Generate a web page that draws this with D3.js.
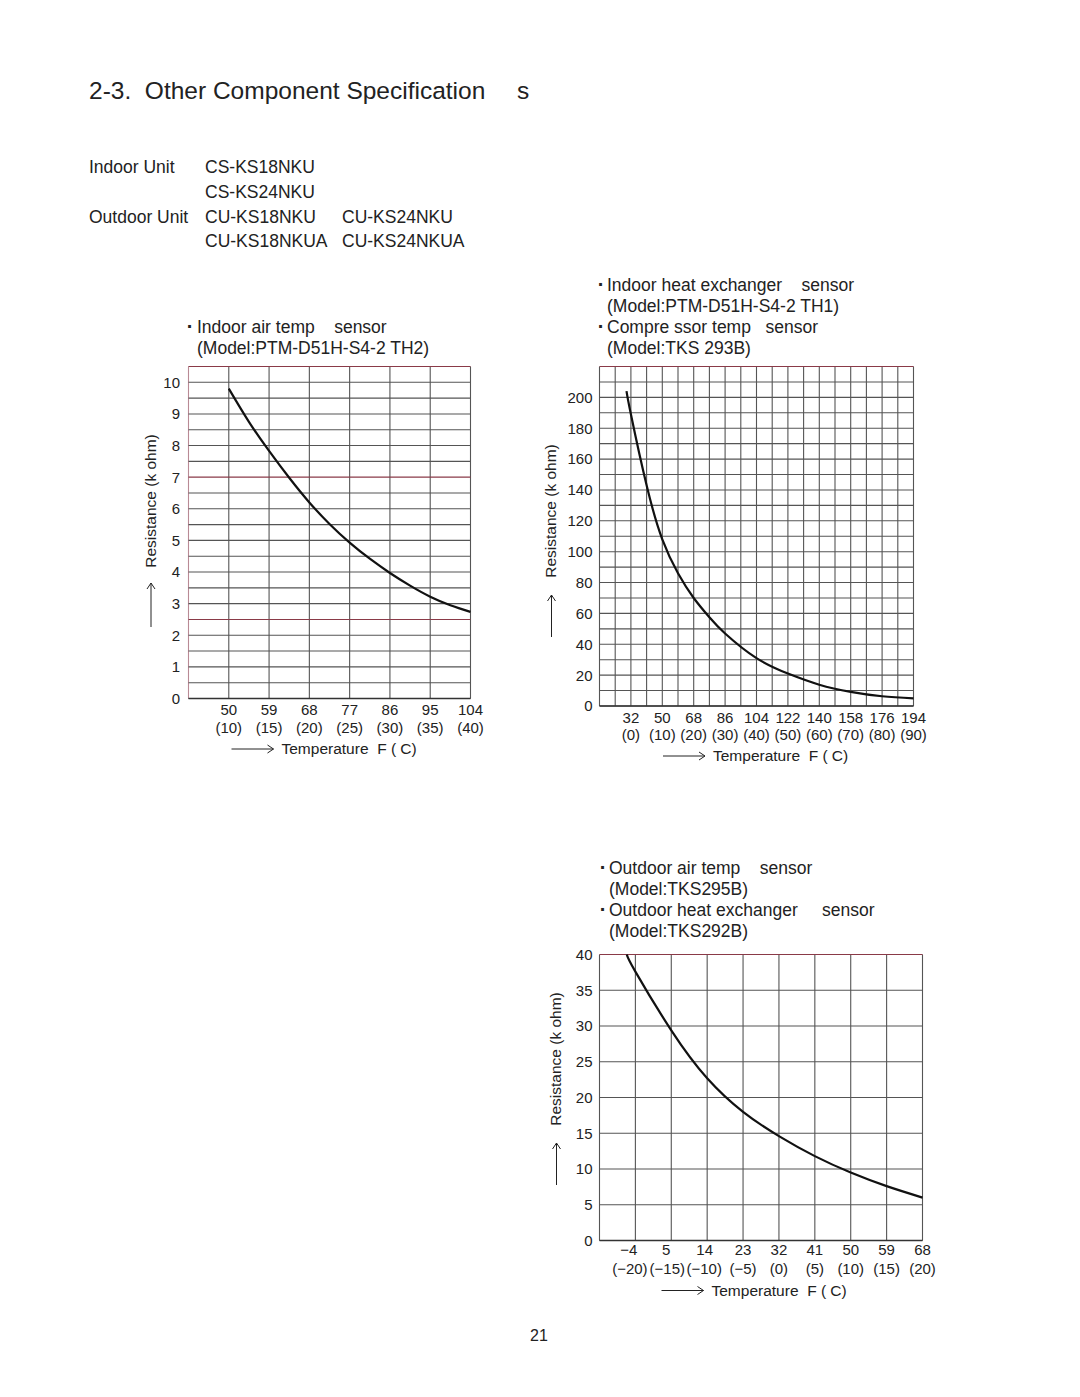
<!DOCTYPE html>
<html>
<head>
<meta charset="utf-8">
<script src="https://cdn.jsdelivr.net/npm/d3@7"></script>
<style>
  html, body { margin: 0; padding: 0; background: #fff; }
  svg text { font-family: "Liberation Sans", Arial, Helvetica, sans-serif; fill: #222; white-space: pre; }
</style>
</head>
<body>
<svg id="page" width="1080" height="1397"></svg>
<script>
// ---------------- DATA ----------------
// Chart 1: Indoor air temp sensor (PTM-D51H-S4-2 TH2)
const c1TempC = [10, 12.5, 15, 17.5, 20, 22.5, 25, 27.5, 30, 32.5, 35, 37.5, 40];
const c1Res   = [9.8, 8.75, 7.83, 6.98, 6.2, 5.52, 4.93, 4.42, 3.97, 3.57, 3.22, 2.95, 2.74];
const c1TickC = [10, 15, 20, 25, 30, 35, 40];
const c1LabF  = ["50", "59", "68", "77", "86", "95", "104"];
const c1LabC  = ["(10)", "(15)", "(20)", "(25)", "(30)", "(35)", "(40)"];
const c1YTicks = [0, 1, 2, 3, 4, 5, 6, 7, 8, 9, 10];

// Chart 2: Indoor heat exchanger / Compressor temp sensor
const c2TempC = [-1.4, 0, 5, 10, 15, 20, 25, 30, 40, 50, 60, 70, 80, 90];
const c2Res   = [204, 189, 143, 108, 86, 70, 57.5, 47, 31, 21, 13.8, 9.2, 6.3, 4.9];
const c2TickC = [0, 10, 20, 30, 40, 50, 60, 70, 80, 90];
const c2LabF  = ["32", "50", "68", "86", "104", "122", "140", "158", "176", "194"];
const c2LabC  = ["(0)", "(10)", "(20)", "(30)", "(40)", "(50)", "(60)", "(70)", "(80)", "(90)"];
const c2YTicks = [0, 20, 40, 60, 80, 100, 120, 140, 160, 180, 200];

// Chart 3: Outdoor air temp / Outdoor heat exchanger sensor
const c3TempC = [-21.2, -20, -15, -10, -5, 0, 5, 10, 15, 20];
const c3Res   = [40, 37.6, 29.4, 22.7, 18.0, 14.6, 11.8, 9.5, 7.6, 6.0];
const c3TickC = [-20, -15, -10, -5, 0, 5, 10, 15, 20];
const c3LabF  = ["\u22124", "5", "14", "23", "32", "41", "50", "59", "68"];
const c3LabC  = ["(\u221220)", "(\u221215)", "(\u221210)", "(\u22125)", "(0)", "(5)", "(10)", "(15)", "(20)"];
const c3YTicks = [0, 5, 10, 15, 20, 25, 30, 35, 40];

// Page text
const titleText = "2-3.  Other Component Specification";
const unitRows = [
  ["Indoor Unit", "CS-KS18NKU", ""],
  ["", "CS-KS24NKU", ""],
  ["Outdoor Unit", "CU-KS18NKU", "CU-KS24NKU"],
  ["", "CU-KS18NKUA", "CU-KS24NKUA"]
];
const c1Caption = [["\u00b7", "Indoor air temp    sensor"], ["", "(Model:PTM-D51H-S4-2 TH2)"]];
const c2Caption = [["\u00b7", "Indoor heat exchanger    sensor"], ["", "(Model:PTM-D51H-S4-2 TH1)"],
                   ["\u00b7", "Compre ssor temp   sensor"], ["", "(Model:TKS 293B)"]];
const c3Caption = [["\u00b7", "Outdoor air temp    sensor"], ["", "(Model:TKS295B)"],
                   ["\u00b7", "Outdoor heat exchanger     sensor"], ["", "(Model:TKS292B)"]];

// ---------------- DRAW ----------------
const svg = d3.select("#page");
svg.append("rect").attr("width", 1080).attr("height", 1397).attr("fill", "#fff");

svg.append("text").attr("x", 89).attr("y", 99).style("font-size", "24.5px").text(titleText);
svg.append("text").attr("x", 517).attr("y", 99).style("font-size", "24.5px").text("s");

const rowY = [173, 197.5, 222.5, 247];
unitRows.forEach((r, i) => {
  svg.append("text").attr("x", 89).attr("y", rowY[i]).style("font-size", "17.5px").text(r[0]);
  svg.append("text").attr("x", 205).attr("y", rowY[i]).style("font-size", "17.5px").text(r[1]);
  svg.append("text").attr("x", 342).attr("y", rowY[i]).style("font-size", "17.5px").text(r[2]);
});

function caption(lines, bx, tx, y0, dy) {
  lines.forEach((l, i) => {
    const y = y0 + i * dy;
    if (l[0]) svg.append("text").attr("x", bx).attr("y", y).attr("text-anchor", "middle")
      .style("font-size", "20px").style("font-weight", "bold").text(l[0]);
    svg.append("text").attr("x", tx).attr("y", y).style("font-size", "17.5px").text(l[1]);
  });
}
caption(c1Caption, 190, 197, 333, 21);
caption(c2Caption, 601, 607, 291, 21);
caption(c3Caption, 603, 609, 874, 21);

function hArrow(x1, x2, y) {
  svg.append("path").attr("d", `M${x1},${y}H${x2}M${x2-6},${y-4}L${x2},${y}L${x2-6},${y+4}`)
    .attr("fill", "none").attr("stroke", "#222").attr("stroke-width", 1);
}
function vArrow(x, yBottom, yTop) {
  svg.append("path").attr("d", `M${x},${yBottom}V${yTop}M${x-4},${yTop+6}L${x},${yTop}L${x+4},${yTop+6}`)
    .attr("fill", "none").attr("stroke", "#222").attr("stroke-width", 1);
}

function drawChart(cfg) {
  const x = d3.scaleLinear().domain(cfg.xDomain).range(cfg.xRange);
  const y = d3.scaleLinear().domain(cfg.yDomain).range(cfg.yRange);
  const g = svg.append("g");
  // grid
  const xs = d3.range(cfg.xDomain[0], cfg.xDomain[1] + 0.001, cfg.xStep);
  const ys = d3.range(cfg.yDomain[0], cfg.yDomain[1] + 0.001, cfg.yStep);
  g.selectAll(".vg").data(xs).join("line")
    .attr("x1", d => x(d)).attr("x2", d => x(d))
    .attr("y1", y(cfg.yDomain[0])).attr("y2", y(cfg.yDomain[1]))
    .attr("stroke", d => (cfg.redX && cfg.redX.includes(d)) ? "#b98a95" : "#555")
    .attr("stroke-width", 1.1);
  g.selectAll(".hg").data(ys).join("line")
    .attr("x1", x(cfg.xDomain[0])).attr("x2", x(cfg.xDomain[1]))
    .attr("y1", d => y(d)).attr("y2", d => y(d))
    .attr("stroke", d => cfg.redY.some(v => Math.abs(v - d) < 1e-6) ? "#8a3a48" : "#555")
    .attr("stroke-width", 1.1);
  g.append("line").attr("x1", x(cfg.xDomain[0])).attr("x2", x(cfg.xDomain[1]))
    .attr("y1", y(cfg.yDomain[0])).attr("y2", y(cfg.yDomain[0])).attr("stroke", "#333").attr("stroke-width", 1.3);

  // curve
  const line = d3.line().x(d => x(d[0])).y(d => y(d[1])).curve(d3.curveNatural);
  g.append("path").datum(d3.zip(cfg.tempC, cfg.res)).attr("d", line)
    .attr("fill", "none").attr("stroke", "#111").attr("stroke-width", 2.2);

  // y labels
  g.selectAll(".yl").data(cfg.yTicks).join("text")
    .attr("x", x(cfg.xDomain[0]) - cfg.yPad).attr("y", d => y(d)).attr("dy", "0.36em")
    .attr("text-anchor", "end").style("font-size", "15px").text(d => d);
  // x labels (F and C)
  g.selectAll(".xf").data(cfg.tickC).join("text")
    .attr("x", (d, i) => x(d) + (cfg.fDx ? cfg.fDx[i] || 0 : 0)).attr("y", cfg.fY).attr("text-anchor", "middle")
    .style("font-size", "15px").text((d, i) => cfg.labF[i]);
  g.selectAll(".xc").data(cfg.tickC).join("text")
    .attr("x", (d, i) => x(d) + (cfg.cDx ? cfg.cDx[i] || 0 : 0)).attr("y", cfg.cY).attr("text-anchor", "middle")
    .style("font-size", "15px").text((d, i) => cfg.labC[i]);

  // axis titles
  g.append("text").attr("x", cfg.tX).attr("y", cfg.tY).style("font-size", "15.5px").text("Temperature  F ( C)");
  hArrow(cfg.tX - 50, cfg.tX - 8, cfg.tY - 5);
  g.append("text").attr("transform", `translate(${cfg.rX},${cfg.rY}) rotate(-90)`)
    .attr("text-anchor", "middle").style("font-size", "15.5px").text("Resistance (k ohm)");
  vArrow(cfg.rX - 4.5, cfg.aY2, cfg.aY1);
}

drawChart({
  xDomain: [5, 40], xRange: [188.5, 470.5], xStep: 5,
  yDomain: [0, 10.5], yRange: [698.5, 366.5], yStep: 0.5,
  redY: [10.5, 7, 2.5], redX: [5],
  tempC: c1TempC, res: c1Res, tickC: c1TickC, labF: c1LabF, labC: c1LabC, yTicks: c1YTicks,
  yPad: 8.5, fY: 715, cY: 733, tX: 281.5, tY: 754, rX: 155.5, rY: 501, aY1: 583, aY2: 627
});
drawChart({
  xDomain: [-10, 90], xRange: [599.5, 913.5], xStep: 5,
  yDomain: [0, 220], yRange: [706, 366.5], yStep: 10,
  redY: [220], redX: [],
  tempC: c2TempC, res: c2Res, tickC: c2TickC, labF: c2LabF, labC: c2LabC, yTicks: c2YTicks,
  yPad: 7, fY: 722.5, cY: 740, tX: 713, tY: 761, rX: 556, rY: 511, aY1: 595, aY2: 637
});
drawChart({
  xDomain: [-25, 20], xRange: [599.5, 922.5], xStep: 5,
  yDomain: [0, 40], yRange: [1240.5, 954.5], yStep: 5,
  redY: [40], redX: [],
  tempC: c3TempC, res: c3Res, tickC: c3TickC, labF: c3LabF, labC: c3LabC, yTicks: c3YTicks,
  fDx: [-6.5, -5, -2.5], cDx: [-5.5, -4, -3],
  yPad: 7, fY: 1255, cY: 1273.5, tX: 711.5, tY: 1295.5, rX: 561, rY: 1059, aY1: 1143, aY2: 1185
});

svg.append("text").attr("x", 539).attr("y", 1341).attr("text-anchor", "middle").style("font-size", "16px").text("21");
</script>
</body>
</html>
